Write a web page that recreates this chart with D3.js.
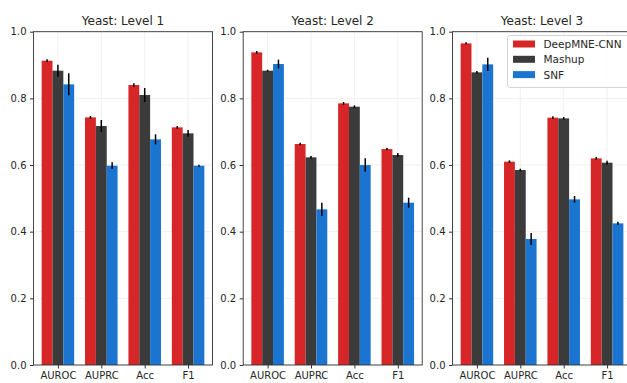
<!DOCTYPE html>
<html>
<head>
<meta charset="utf-8">
<script src="https://cdn.jsdelivr.net/npm/d3@7"></script>
<style>
  html, body { margin: 0; padding: 0; background: #fff; }
  svg { display: block; }
  text { font-family: "DejaVu Sans", sans-serif; fill: #262626; }
</style>
</head>
<body>
<svg id="chart" width="627" height="383"></svg>
<script>
// Metrics on the x axis, methods as bar series, one panel per level
const metrics = ["AUROC", "AUPRC", "Acc", "F1"];
const methods = ["DeepMNE-CNN", "Mashup", "SNF"];
const panelTitles = ["Yeast: Level 1", "Yeast: Level 2", "Yeast: Level 3"];
const yTicks = [0.0, 0.2, 0.4, 0.6, 0.8, 1.0];

// Mean scores, one row per level (AUROC, AUPRC, Acc, F1)
const deepmneMean = [
  [0.913, 0.743, 0.840, 0.713],
  [0.938, 0.663, 0.785, 0.648],
  [0.965, 0.610, 0.742, 0.620]
];
const mashupMean = [
  [0.883, 0.717, 0.810, 0.695],
  [0.883, 0.623, 0.775, 0.630],
  [0.878, 0.585, 0.740, 0.607]
];
const snfMean = [
  [0.842, 0.598, 0.677, 0.598],
  [0.903, 0.467, 0.600, 0.487],
  [0.902, 0.378, 0.497, 0.425]
];

// Standard deviations for the error bars
const deepmneErr = [
  [0.004, 0.004, 0.005, 0.004],
  [0.004, 0.004, 0.004, 0.004],
  [0.003, 0.004, 0.004, 0.004]
];
const mashupErr = [
  [0.018, 0.018, 0.021, 0.010],
  [0.003, 0.004, 0.004, 0.006],
  [0.004, 0.004, 0.004, 0.006]
];
const snfErr = [
  [0.033, 0.010, 0.015, 0.003],
  [0.013, 0.020, 0.020, 0.015],
  [0.020, 0.018, 0.010, 0.005]
];

const colors = ["#d62628", "#3b3b3b", "#1b75d0"];

const means = [deepmneMean, mashupMean, snfMean];
const errs = [deepmneErr, mashupErr, snfErr];

const svg = d3.select("#chart");
const panelLefts = [33.5, 243.2, 452.5];
const panelWidth = 179;
const plotTop = 31.7, plotBottom = 365;

const barW = 0.25;

panelLefts.forEach((left, p) => {
  const g = svg.append("g");

  const x = d3.scaleLinear().domain([-0.5625, 3.5625]).range([left, left + panelWidth]);
  const y = d3.scaleLinear().domain([0, 1]).range([plotBottom, plotTop]);

  // light grid
  g.append("g").selectAll("line").data(yTicks).join("line")
    .attr("x1", left).attr("x2", left + panelWidth)
    .attr("y1", d => y(d)).attr("y2", d => y(d))
    .attr("stroke", "#ececec").attr("stroke-width", 0.8);
  g.append("g").selectAll("line").data(d3.range(metrics.length)).join("line")
    .attr("x1", d => x(d)).attr("x2", d => x(d))
    .attr("y1", plotTop).attr("y2", plotBottom)
    .attr("stroke", "#ececec").attr("stroke-width", 0.8);

  // bars
  methods.forEach((m, s) => {
    const off = (s - 1) * barW;
    g.append("g").selectAll("rect").data(means[s][p]).join("rect")
      .attr("x", (d, i) => x(i + off - barW / 2))
      .attr("width", (d, i) => x(i + off + barW / 2) - x(i + off - barW / 2))
      .attr("y", d => y(d))
      .attr("height", d => y(0) - y(d))
      .attr("fill", colors[s]);
  });

  // error bars
  methods.forEach((m, s) => {
    const off = (s - 1) * barW;
    g.append("g").selectAll("line").data(means[s][p]).join("line")
      .attr("x1", (d, i) => x(i + off)).attr("x2", (d, i) => x(i + off))
      .attr("y1", (d, i) => y(d - errs[s][p][i]))
      .attr("y2", (d, i) => y(d + errs[s][p][i]))
      .attr("stroke", "#000").attr("stroke-width", 1.5);
  });

  // axes
  const xAxis = d3.axisBottom(x).tickValues(d3.range(metrics.length))
    .tickFormat(i => metrics[i]).tickSize(3.5).tickPadding(3);
  const gx = g.append("g").attr("transform", `translate(0,${plotBottom})`).call(xAxis);
  gx.select(".domain").remove();
  gx.selectAll("line").attr("stroke", "#333");
  gx.selectAll("text").attr("font-size", 10).attr("fill", "#262626")
    .style("font-family", "'DejaVu Sans', sans-serif");

  const yAxis = d3.axisLeft(y).tickValues(yTicks).tickFormat(d3.format(".1f"))
    .tickSize(3.5).tickPadding(3.5);
  const gy = g.append("g").attr("transform", `translate(${left},0)`).call(yAxis);
  gy.select(".domain").remove();
  gy.selectAll("line").attr("stroke", "#333");
  gy.selectAll("text").attr("font-size", 10).attr("fill", "#262626")
    .style("font-family", "'DejaVu Sans', sans-serif");

  // frame
  g.append("rect")
    .attr("x", left).attr("y", plotTop)
    .attr("width", panelWidth).attr("height", plotBottom - plotTop)
    .attr("fill", "none").attr("stroke", "#333").attr("stroke-width", 0.9);

  // title
  g.append("text")
    .attr("x", left + panelWidth / 2).attr("y", plotTop - 7)
    .attr("text-anchor", "middle").attr("font-size", 12)
    .text(panelTitles[p]);
});

// legend in the last panel
const lg = svg.append("g").attr("transform", "translate(507.5,35.5)");
lg.append("rect")
  .attr("x", 0).attr("y", 0).attr("width", 125).attr("height", 52)
  .attr("rx", 2.5).attr("fill", "#fff").attr("fill-opacity", 0.85)
  .attr("stroke", "#d0d0d0").attr("stroke-width", 0.9);
methods.forEach((m, s) => {
  lg.append("rect")
    .attr("x", 5.5).attr("y", 5 + s * 15.3).attr("width", 22).attr("height", 7)
    .attr("fill", colors[s]);
  lg.append("text")
    .attr("x", 36).attr("y", 12.5 + s * 15.3)
    .attr("font-size", 10.5)
    .text(m);
});
</script>
</body>
</html>
